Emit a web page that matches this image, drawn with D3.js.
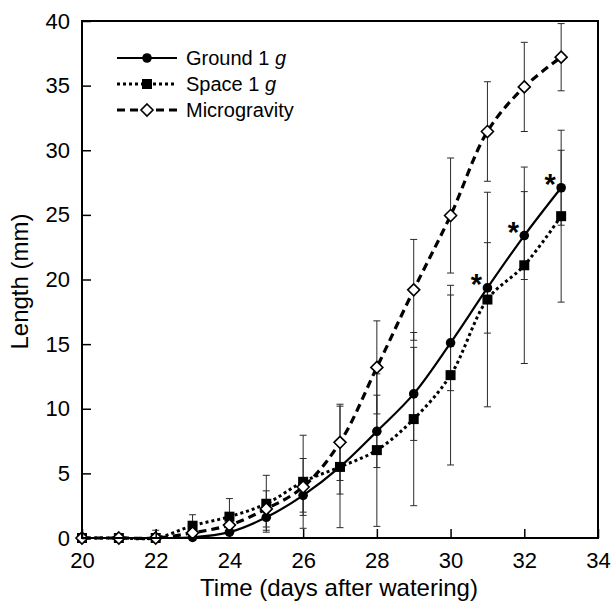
<!DOCTYPE html>
<html>
<head>
<meta charset="utf-8">
<script src="https://cdn.jsdelivr.net/npm/d3@7"></script>
<style>
  body { margin: 0; background: #fff; }
  text { font-family: Arial, "Liberation Sans", sans-serif; fill: #000; }
</style>
</head>
<body>
<div id="chart"></div>
<script>
// values
var days = [20, 21, 22, 23, 24, 25, 26, 27, 28, 29, 30, 31, 32, 33];
var ground    = [0, 0, 0, 0.05, 0.45, 1.6, 3.3, 5.5, 8.25, 11.15, 15.1, 19.35, 23.4, 27.1];
var groundErr = [0, 0, 0, 0,    0.4,  1.0, 1.3, 2.1, 2.8,  3.6,   3.7,  3.5,   3.4,  2.9];
var space     = [0, 0, 0, 0.95, 1.65, 2.65, 4.35, 5.5, 6.8, 9.2, 12.6, 18.45, 21.1, 24.9];
var spaceErr  = [0, 0, 0, 0.85, 1.4,  2.2,  3.6,  4.7, 5.9, 6.7, 6.95, 8.3,   7.6,  6.65];
var micro     = [0, 0, 0,   0.4, 1.0, 2.25, 3.95, 7.4,  13.2, 19.2, 24.95, 31.45, 34.9, 37.2];
var microErr  = [0, 0, 0.6, 0.4, 0.6, 1.4,  2.2,  2.95, 3.6,  3.9,  4.45,  3.85,  3.45, 2.6];
var starDays = [31, 32, 33];
var xTicks = [20, 22, 24, 26, 28, 30, 32, 34];
var yTicks = [0, 5, 10, 15, 20, 25, 30, 35, 40];
var seriesNames = ["Ground 1 ", "Space 1 ", "Microgravity"];

var W = 612, H = 604;
var margin = {top: 21, right: 14, bottom: 66, left: 82};
var w = W - margin.left - margin.right;
var h = H - margin.top - margin.bottom;

var svg = d3.select("#chart").append("svg")
	.attr("width", W).attr("height", H);
var g = svg.append("g")
	.attr("transform", "translate(" + margin.left + "," + margin.top + ")");

var x = d3.scaleLinear().domain([20, 34]).range([0, w]);
var y = d3.scaleLinear().domain([0, 40]).range([h, 0]);

svg.append("defs").append("clipPath").attr("id", "clip")
	.append("rect").attr("width", w).attr("height", h);

var series = [
	{name: seriesNames[0], italic: "g", vals: ground, err: groundErr, marker: "circle", dash: null, lw: 2.2},
	{name: seriesNames[1], italic: "g", vals: space, err: spaceErr, marker: "square", dash: "3,3", lw: 3},
	{name: seriesNames[2], italic: null, vals: micro, err: microErr, marker: "diamond", dash: "8,5", lw: 3.2}
];

// error bars
var eb = g.append("g").attr("clip-path", "url(#clip)");
series.forEach(function(s) {
	days.forEach(function(d, i) {
		var e = s.err[i];
		if (!e) return;
		var cx = x(d), y1 = y(s.vals[i] + e), y2 = y(s.vals[i] - e);
		eb.append("line").attr("x1", cx).attr("x2", cx).attr("y1", y1).attr("y2", y2)
			.attr("stroke", "#2a2a2a").attr("stroke-width", 1);
		[y1, y2].forEach(function(yy) {
			eb.append("line").attr("x1", cx - 3.5).attr("x2", cx + 3.5).attr("y1", yy).attr("y2", yy)
				.attr("stroke", "#2a2a2a").attr("stroke-width", 1);
		});
	});
});

var line = d3.line()
	.x(function(d) { return x(d[0]); })
	.y(function(d) { return y(d[1]); })
	.curve(d3.curveCatmullRom.alpha(0.5));

function drawMarker(sel, type, cx, cy) {
	if (type == "circle") {
		sel.append("circle").attr("cx", cx).attr("cy", cy).attr("r", 4.8).attr("fill", "#000");
	} else if (type == "square") {
		sel.append("rect").attr("x", cx - 5).attr("y", cy - 5).attr("width", 10).attr("height", 10).attr("fill", "#000");
	} else {
		var r = 6;
		sel.append("path")
			.attr("d", "M" + cx + "," + (cy - r) + "L" + (cx + r) + "," + cy + "L" + cx + "," + (cy + r) + "L" + (cx - r) + "," + cy + "Z")
			.attr("fill", "#fff").attr("stroke", "#000").attr("stroke-width", 1.6);
	}
}

series.forEach(function(s) {
	var pts = days.map(function(d, i) { return [d, s.vals[i]]; });
	g.append("path").datum(pts)
		.attr("d", line)
		.attr("fill", "none")
		.attr("stroke", "#000")
		.attr("stroke-width", s.lw)
		.attr("stroke-dasharray", s.dash);
});
series.forEach(function(s) {
	var mg = g.append("g");
	days.forEach(function(d, i) { drawMarker(mg, s.marker, x(d), y(s.vals[i])); });
});

// asterisks
starDays.forEach(function(d) {
	var i = days.indexOf(d);
	g.append("text")
		.attr("x", x(d) - 11).attr("y", y(ground[i]) + 6)
		.attr("text-anchor", "middle")
		.style("font-size", "29px").style("font-weight", "bold")
		.text("*");
});

// frame and axes
g.append("rect").attr("width", w).attr("height", h)
	.attr("fill", "none").attr("stroke", "#000").attr("stroke-width", 2);

var xAxis = g.append("g").attr("transform", "translate(0," + h + ")")
	.call(d3.axisBottom(x).tickValues(xTicks).tickSizeInner(-9).tickSizeOuter(0).tickPadding(14));
var yAxis = g.append("g")
	.call(d3.axisLeft(y).tickValues(yTicks).tickSizeInner(-9).tickSizeOuter(0).tickPadding(12));
[xAxis, yAxis].forEach(function(a) {
	a.select(".domain").remove();
	a.selectAll("line").attr("stroke", "#000").attr("stroke-width", 1.5);
	a.selectAll("text").style("font-size", "22px").attr("fill", "#000");
});

svg.append("text")
	.attr("x", margin.left + w / 2 - 1).attr("y", 596)
	.attr("text-anchor", "middle").style("font-size", "24px")
	.text("Time (days after watering)");
svg.append("text")
	.attr("transform", "translate(28," + (margin.top + h / 2 + 2) + ") rotate(-90)")
	.attr("text-anchor", "middle").style("font-size", "24px")
	.text("Length (mm)");

// legend
var leg = svg.append("g");
var legY = [58, 84, 110];
series.forEach(function(s, k) {
	var ly = legY[k];
	leg.append("line").attr("x1", 117).attr("x2", 177).attr("y1", ly).attr("y2", ly)
		.attr("stroke", "#000").attr("stroke-width", s.lw).attr("stroke-dasharray", s.dash);
	drawMarker(leg, s.marker, 147, ly);
	var t = leg.append("text").attr("x", 186).attr("y", ly + 7).style("font-size", "20px");
	t.append("tspan").text(s.name);
	if (s.italic) t.append("tspan").style("font-style", "italic").text(s.italic);
});
</script>
</body>
</html>
